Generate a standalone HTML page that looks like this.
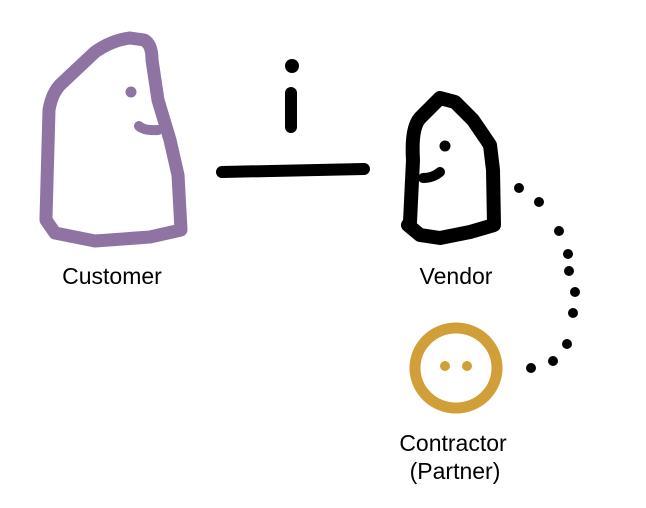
<!DOCTYPE html>
<html><head><style>body{margin:0;background:#fff}svg{display:block}</style></head><body>
<svg width="646" height="508" viewBox="0 0 646 508" xmlns="http://www.w3.org/2000/svg">
<g fill="none" stroke-linecap="round" stroke-linejoin="round">
<path d="M46,218 L49,110 Q52,92 62,83 L95,52 Q112,40 130,38 L144,40 Q152,44 152,60 L158,100 L170,140 L178,175 L181,230 L150,237 L95,241 L55,233 L46,220" stroke="#8f74a3" stroke-width="13"/>
<path d="M139,126 Q144,131 158,130" stroke="#8f74a3" stroke-width="10"/>
<path d="M410,222 L413,160 Q411,128 420,118 L440,98 L455,102 L473,120 L490,145 L493,170 L494,225 L470,232 L440,238 L420,235 L408,225" stroke="#000" stroke-width="14"/>
<path d="M423,178 Q433,178 440,172" stroke="#000" stroke-width="10"/>
<ellipse cx="456" cy="368" rx="41" ry="40" stroke="#d19f38" stroke-width="11"/>
<path d="M222,172 L364,169" stroke="#000" stroke-width="12"/>
<path d="M291,93 L291,127" stroke="#000" stroke-width="12"/>
</g>
<g fill="#8f74a3"><circle cx="131" cy="92" r="5.5"/></g>
<g fill="#000"><circle cx="445" cy="146" r="5.5"/><circle cx="292" cy="66" r="7"/>
<circle cx="519" cy="188" r="5"/><circle cx="539" cy="202" r="5"/><circle cx="559" cy="231" r="5"/><circle cx="568" cy="254" r="5"/><circle cx="569" cy="271" r="5"/><circle cx="575" cy="292" r="5"/><circle cx="573" cy="313" r="5"/><circle cx="567" cy="344" r="5"/><circle cx="553" cy="361" r="5"/><circle cx="531" cy="368" r="5"/></g>
<g fill="#d19f38"><circle cx="445" cy="366" r="5"/><circle cx="467" cy="366" r="5"/></g>
<g font-family="Liberation Sans, sans-serif" font-size="23" fill="#000" text-anchor="middle">
<text x="112" y="284">Customer</text>
<text x="456" y="284">Vendor</text>
<text x="453" y="451">Contractor</text>
<text x="455" y="479">(Partner)</text>
</g>
</svg>
</body></html>
